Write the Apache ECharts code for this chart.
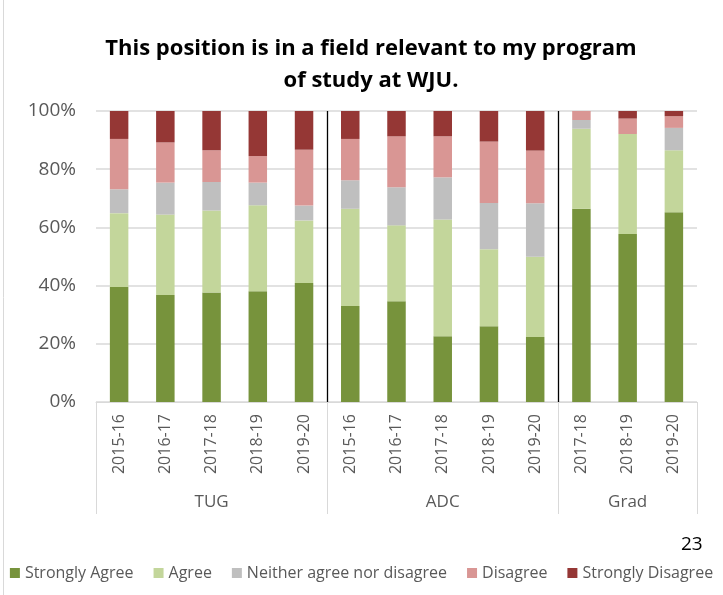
<!DOCTYPE html>
<html>
<head>
<meta charset="utf-8">
<script src="https://cdn.jsdelivr.net/npm/echarts@6/dist/echarts.min.js"></script>
<style>
    html, body { margin: 0; padding: 0; background: #fff; }
    #chart { width: 723px; height: 595px; }
</style>
</head>
<body>
<div id="chart"></div>
<script>
// 年份（每组内）
let years = ['2015-16', '2016-17', '2017-18', '2018-19', '2019-20',
             '2015-16', '2016-17', '2017-18', '2018-19', '2019-20',
             '2017-18', '2018-19', '2019-20'];
// 分组
let groups = ['TUG', 'ADC', 'Grad'];
let groupCenters = [2.5, 7.5, 11.5];
let groupBounds = [0, 5, 10, 13];
let groupDividers = [5, 10];

// 各回答比例 (%)
let stronglyAgree    = [39.5, 36.8, 37.6, 38.1, 40.9, 33.0, 34.6, 22.6, 26.0, 22.3, 66.4, 57.7, 65.2];
let agree            = [25.4, 27.6, 28.2, 29.5, 21.5, 33.4, 26.1, 40.1, 26.5, 27.6, 27.5, 34.4, 21.3];
let neither          = [ 8.2, 11.0,  9.8,  7.8,  5.1,  9.8, 13.1, 14.5, 15.9, 18.4,  3.0,  0.0,  7.7];
let disagree         = [17.3, 13.8, 10.9,  9.1, 19.2, 14.2, 17.5, 14.1, 21.1, 18.1,  3.1,  5.3,  4.0];
let stronglyDisagree = [ 9.6, 10.8, 13.5, 15.5, 13.3,  9.6,  8.7,  8.7, 10.5, 13.6,  0.0,  2.6,  1.8];

let seriesNames = ['Strongly Agree', 'Agree', 'Neither agree nor disagree', 'Disagree', 'Strongly Disagree'];
let seriesData = [stronglyAgree, agree, neither, disagree, stronglyDisagree];
let colors = ['#77933C', '#C3D69B', '#BFBFBF', '#D99694', '#953735'];

let font = 'Open Sans';

let chart = echarts.init(document.getElementById('chart'), null, {renderer: 'canvas'});

let option = {
    animation: false,
    color: colors,
    title: {
        text: 'This position is in a field relevant to my program\nof study at WJU.',
        left: 366,
        top: 28,
        textAlign: 'center',
        textStyle: {
            fontFamily: font,
            fontWeight: 'bold',
            fontSize: 22,
            lineHeight: 32,
            color: '#000'
        }
    },
    legend: {
        data: seriesNames,
        left: 'center',
        top: 560,
        itemWidth: 10,
        itemHeight: 10,
        itemGap: 20,
        icon: 'rect',
        textStyle: {
            fontFamily: font,
            fontSize: 16,
            color: '#595959'
        }
    },
    grid: {
        left: 96,
        right: 26,
        top: 111,
        bottom: 193
    },
    xAxis: [
        {
            type: 'category',
            data: years,
            axisLine: { lineStyle: { color: '#D9D9D9', width: 1 } },
            axisTick: { show: false },
            axisLabel: {
                rotate: 90,
                margin: 12,
                fontFamily: font,
                fontSize: 16,
                color: '#595959'
            }
        },
        {
            // 分组标签和分隔线
            type: 'value',
            position: 'bottom',
            min: 0,
            max: 13,
            axisLine: { show: false },
            splitLine: { show: false },
            axisTick: {
                show: true,
                customValues: groupBounds,
                length: 112,
                lineStyle: { color: '#D9D9D9', width: 1 }
            },
            axisLabel: {
                customValues: groupCenters,
                margin: 92,
                formatter: (v) => groups[groupCenters.indexOf(v)],
                fontFamily: font,
                fontSize: 17,
                color: '#595959'
            }
        },
        {
            // 图内黑色分隔线
            type: 'value',
            min: 0,
            max: 13,
            show: true,
            axisLine: { show: false },
            axisTick: { show: false, customValues: groupDividers },
            axisLabel: { show: false, customValues: groupDividers },
            splitLine: { show: true, lineStyle: { color: '#000', width: 1.3 } }
        }
    ],
    yAxis: {
        type: 'value',
        min: 0,
        max: 100,
        interval: 20,
        axisLine: { show: false },
        axisTick: { show: false },
        splitLine: { lineStyle: { color: '#D9D9D9', width: 1.5 } },
        axisLabel: {
            formatter: '{value}%',
            margin: 20,
            fontFamily: font,
            fontSize: 19,
            color: '#595959'
        }
    },
    graphic: [
        {
            type: 'text',
            left: 681,
            top: 535,
            style: { text: '23', fontFamily: font, fontSize: 19, fill: '#000' }
        },
        {
            type: 'line',
            shape: { x1: 3.5, y1: 0, x2: 3.5, y2: 595 },
            style: { stroke: '#D9D9D9', lineWidth: 1 }
        }
    ],
    series: seriesNames.map((name, i) => ({
        name: name,
        type: 'bar',
        stack: 'total',
        xAxisIndex: 0,
        barWidth: '40%',
        data: seriesData[i],
        itemStyle: { color: colors[i] }
    }))
};

chart.setOption(option);
</script>
</body>
</html>
